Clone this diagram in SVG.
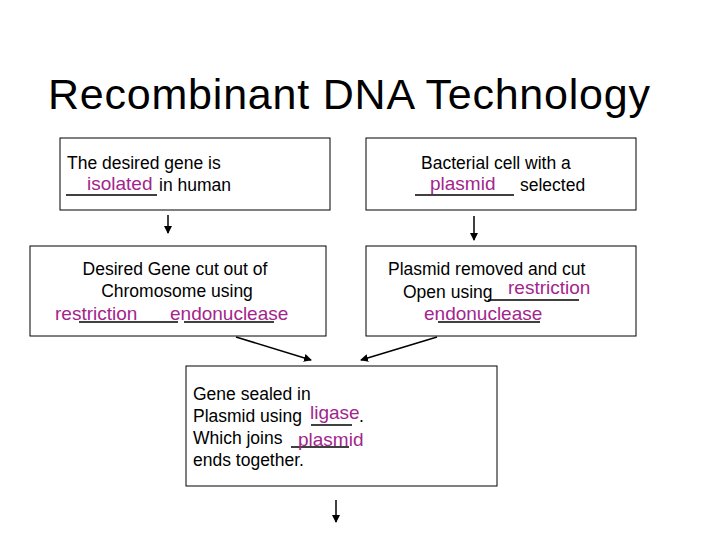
<svg xmlns="http://www.w3.org/2000/svg" width="720" height="540" viewBox="0 0 720 540">
<style>
text{font-family:"Liberation Sans",Arial,sans-serif;font-size:17.5px;fill:#000}
.m{fill:#A3258C;font-size:19px}
.t{font-size:43px}
rect{fill:#fff;stroke:#000;stroke-width:1}
.b{stroke:#000;stroke-width:1.3}
.c line{stroke:#000;stroke-width:1.5;marker-end:url(#a)}
</style>
<defs><marker id="a" markerWidth="8" markerHeight="8" refX="7" refY="4" orient="auto" markerUnits="userSpaceOnUse"><path d="M0,0L8,4L0,8z" fill="#000"/></marker></defs>
<rect width="720" height="540" style="stroke:none"/>
<text class="t" x="48" y="109" textLength="602">Recombinant DNA Technology</text>
<g id="n1"><rect x="60" y="138" width="270" height="72"/>
<text x="67" y="169">The desired gene is</text>
<line class="b" x1="66" y1="195" x2="157" y2="195"/>
<text x="159" y="191">in human</text>
<text class="m" x="87" y="190">isolated</text></g>
<g id="n2"><rect x="366" y="138" width="270" height="72"/>
<text x="421" y="169">Bacterial cell with a</text>
<line class="b" x1="415" y1="195" x2="514" y2="195"/>
<text x="520" y="191">selected</text>
<text class="m" x="430" y="190">plasmid</text></g>
<g id="n3"><rect x="30" y="246" width="296" height="90"/>
<text x="175" y="275" text-anchor="middle">Desired Gene cut out of</text>
<text x="177" y="297" text-anchor="middle">Chromosome using</text>
<line class="b" x1="79" y1="322" x2="178" y2="322"/>
<line class="b" x1="184" y1="322" x2="274" y2="322"/>
<text class="m" x="55" y="320">restriction</text>
<text class="m" x="170" y="320">endonuclease</text></g>
<g id="n4"><rect x="366" y="246" width="270" height="90"/>
<text x="388" y="275">Plasmid removed and cut</text>
<text x="403" y="298">Open using</text>
<line class="b" x1="488" y1="300" x2="579" y2="300"/>
<text class="m" x="508" y="294">restriction</text>
<line class="b" x1="438" y1="322" x2="540" y2="322"/>
<text class="m" x="424" y="320">endonuclease</text></g>
<g id="n5"><rect x="186" y="366" width="311" height="120"/>
<text x="193" y="400">Gene sealed in</text>
<text x="193" y="422">Plasmid using</text>
<line class="b" x1="311" y1="425" x2="352" y2="425"/>
<text x="359" y="422">.</text>
<text class="m" x="310" y="419">ligase</text>
<text x="193" y="444">Which joins</text>
<line class="b" x1="291" y1="447" x2="349" y2="447"/>
<text class="m" x="298" y="446">plasmid</text>
<text x="193" y="466">ends together.</text></g>
<g class="c">
<line x1="168" y1="215" x2="168" y2="233"/>
<line x1="474" y1="216" x2="474" y2="240"/>
<line x1="236" y1="337" x2="311" y2="360"/>
<line x1="437" y1="337" x2="361" y2="360"/>
<line x1="336" y1="500" x2="336" y2="522"/>
</g>
</svg>
